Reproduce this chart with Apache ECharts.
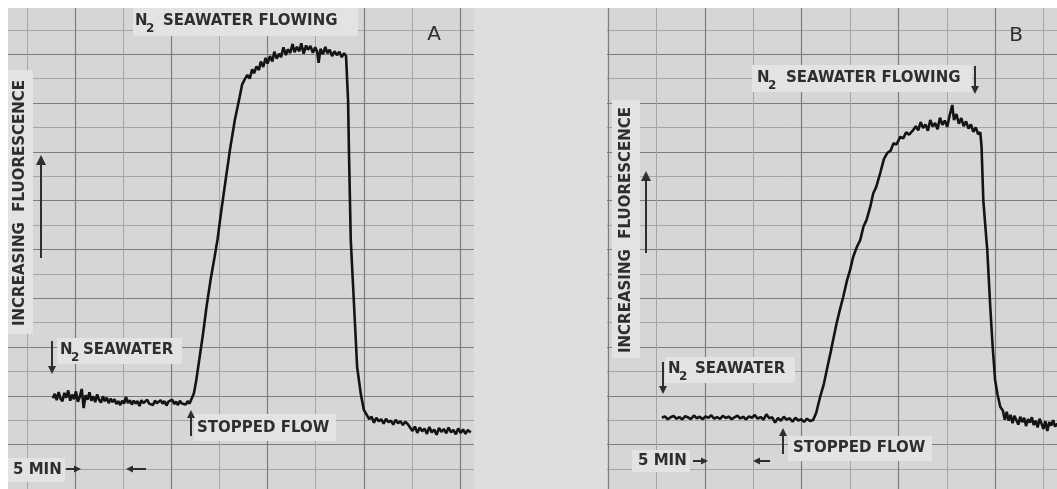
<!DOCTYPE html>
<html>
<head>
<meta charset="utf-8">
<script src="https://cdn.jsdelivr.net/npm/echarts@6/dist/echarts.min.js"></script>
<style>
html,body{margin:0;padding:0;background:#fff;}
#chart{width:1057px;height:489px;}
</style>
</head>
<body>
<div id="chart"></div>
<script>
// chart recorder traces, [minutes, fluorescence units (one small division = 1)]
// panel A
var baseA = [[-2.3,3.90],[-2.1,4.08],[-1.9,3.82],[-1.7,4.15],[-1.5,3.88],[-1.3,3.78],[-1.1,4.12],[-0.9,3.92],
  [-0.7,4.22],[-0.5,3.80],[-0.3,4.05],[-0.1,3.86],[0.1,4.18],[0.3,3.76],[0.5,3.96],[0.7,4.28],[0.9,3.50],
  [1.1,4.02],[1.3,3.84],[1.5,4.14],[1.7,3.80],[1.9,3.98],[2.1,3.74],[2.3,4.06],[2.5,3.84],[2.7,3.72],[2.9,3.98],
  [3.1,3.78],[3.3,3.92],[3.5,3.70],[3.7,3.88],[3.9,3.74],[4.1,3.86],[4.3,3.66],[4.5,3.78],[4.7,3.62],[4.9,3.80],
  [5.1,3.68],[5.3,3.96],[5.5,3.70],[5.7,3.82],[5.9,3.64],[6.1,3.80],[6.3,3.68],[6.5,3.78],[6.7,3.58],[6.9,3.82],
  [7.1,3.70],[7.3,3.66],[7.5,3.84],[7.7,3.68],[7.9,3.76],[8.1,3.62],[8.3,3.80],[8.5,3.70],[8.7,3.64],[8.9,3.82],
  [9.1,3.68],[9.3,3.78],[9.5,3.60],[9.7,3.76],[9.9,3.70],[10.1,3.84],[10.3,3.66],[10.5,3.76],[10.7,3.62],
  [10.9,3.80],[11.1,3.68],[11.3,3.74],[11.5,3.64],[11.7,3.78],[11.9,3.68],[12.1,3.72]];
var riseA = [[12.35,4.10],[12.6,4.65],[12.95,5.60],[13.3,6.55],[13.66,7.65],[14.1,8.80],[14.5,9.70],[14.8,10.40],
  [15.2,11.60],[15.7,13.00],[16.1,14.10],[16.6,15.30],[17.1,16.25],[17.35,16.75],[17.6,16.95]];
var plateauA = [[17.9,17.15],[18.15,17.00],[18.4,17.38],[18.6,17.22],[18.85,17.50],[19.1,17.35],[19.3,17.70],
  [19.55,17.48],[19.8,17.85],[20.0,17.62],[20.25,17.92],[20.5,17.70],[20.7,18.10],[20.95,17.82],[21.2,18.02],
  [21.4,17.88],[21.65,18.28],[21.9,17.96],[22.1,18.20],[22.35,18.05],[22.6,18.42],[22.8,18.08],[23.05,18.30],
  [23.3,18.12],[23.5,18.45],[23.75,18.02],[24.0,18.36],[24.2,18.18],[24.45,18.34],[24.7,18.06],[24.95,18.28],
  [25.15,18.10],[25.3,17.65],[25.5,18.22],[25.75,18.00],[26.0,18.30],[26.2,18.04],[26.45,18.18],[26.7,17.92],
  [26.95,18.12],[27.2,17.96],[27.45,18.10],[27.7,17.88],[27.95,18.04],[28.15,17.92],[28.26,17.88]];
var dropA = [[28.36,16.10],[28.47,13.66],[28.64,10.38],[28.99,7.64],[29.3,5.18],[29.7,4.03],[30.0,3.42]];
var tailA = [[30.3,3.22],[30.55,3.05],[30.8,3.14],[31.05,2.90],[31.3,3.10],[31.55,2.96],[31.8,3.04],[32.05,2.86],
  [32.3,3.06],[32.55,2.92],[32.8,2.98],[33.05,2.82],[33.3,3.02],[33.55,2.88],[33.8,2.96],[34.05,2.80],[34.3,2.94],
  [34.55,2.84],[34.8,2.70],[35.05,2.56],[35.3,2.74],[35.55,2.48],[35.8,2.70],[36.05,2.54],[36.3,2.66],[36.55,2.44],
  [36.8,2.72],[37.05,2.50],[37.3,2.62],[37.55,2.40],[37.8,2.68],[38.05,2.52],[38.3,2.64],[38.55,2.46],[38.8,2.70],
  [39.05,2.50],[39.3,2.60],[39.55,2.42],[39.8,2.66],[40.05,2.48],[40.3,2.62],[40.55,2.44],[40.8,2.60],[41.1,2.50]];

// panel B
var baseB = [[-4.45,3.10],[-4.15,3.16],[-3.85,3.04],[-3.55,3.12],[-3.25,3.18],[-2.95,3.06],[-2.65,3.13],
  [-2.35,3.03],[-2.05,3.17],[-1.75,3.11],[-1.45,3.05],[-1.15,3.19],[-0.85,3.08],[-0.55,3.14],[-0.25,3.04],
  [0.05,3.16],[0.35,3.10],[0.65,3.20],[0.95,3.06],[1.25,3.13],[1.55,3.05],[1.85,3.18],[2.15,3.09],[2.45,3.15],
  [2.75,3.04],[3.05,3.12],[3.35,3.19],[3.65,3.07],[3.95,3.14],[4.25,3.03],[4.55,3.16],[4.85,3.10],[5.15,3.21],
  [5.45,3.06],[5.75,3.13],[6.05,3.02],[6.35,3.24],[6.65,3.08],[6.95,3.12],[7.25,2.90],[7.55,3.09],[7.85,2.98],
  [8.15,3.14],[8.45,3.02],[8.75,3.08],[9.05,2.94],[9.35,3.10],[9.65,2.99],[9.95,3.04],[10.25,2.93],[10.55,3.06],
  [10.85,2.97],[11.18,3.01]];
var riseB = [[11.5,3.30],[11.9,3.95],[12.3,4.50],[12.7,5.25],[13.0,5.80],[13.25,6.29],[13.6,6.95],[13.9,7.45],
  [14.29,8.05],[14.7,8.75],[15.0,9.15],[15.32,9.69],[15.7,10.10],[16.05,10.38],[16.4,10.95],[16.7,11.20],
  [17.08,11.73],[17.4,12.30],[17.7,12.55],[18.12,13.13],[18.5,13.70],[18.84,13.95],[19.2,14.05],[19.5,14.35],
  [19.8,14.30],[20.19,14.61],[20.5,14.55],[20.8,14.80],[21.1,14.70],[21.53,14.89]];
var plateauB = [[21.8,15.05],[22.05,14.88],[22.3,15.22],[22.55,14.98],[22.8,15.12],[23.05,14.86],[23.3,15.30],
  [23.55,15.04],[23.8,15.18],[24.05,14.92],[24.3,15.40],[24.55,15.10],[24.8,15.28],[25.05,15.02],[25.3,15.50],
  [25.57,15.92],[25.75,15.30],[26.0,15.55],[26.25,15.15],[26.5,15.38],[26.75,15.05],[27.0,15.25],[27.25,14.95],
  [27.5,15.12],[27.75,14.82],[28.0,15.00],[28.25,14.72],[28.47,14.80]];
var dropB = [[28.6,14.20],[28.78,12.02],[29.0,10.90],[29.19,9.98],[29.5,7.64],[29.75,6.00],[30.0,4.65],
  [30.25,4.05],[30.54,3.54]];
var tailB = [[30.8,3.40],[31.0,3.02],[31.2,3.34],[31.4,2.98],[31.6,3.22],[31.8,2.88],[32.0,3.18],[32.2,3.00],
  [32.4,2.82],[32.6,3.14],[32.8,2.92],[33.0,3.10],[33.2,2.76],[33.4,3.04],[33.6,2.90],[33.8,3.12],[34.0,2.80],
  [34.2,2.98],[34.4,2.70],[34.6,3.06],[34.8,2.86],[35.0,2.64],[35.2,2.96],[35.4,2.56],[35.6,2.92],[35.8,2.78],
  [36.0,3.00],[36.2,2.74],[36.44,2.86]];

var traceA = baseA.concat(riseA, plateauA, dropA, tailA);
var traceB = baseB.concat(riseB, plateauB, dropB, tailB);

var PAPER = '#d6d6d6';
var BOX = '#e3e3e3';
var INK = '#2e2e2e';
var FONT = '"DejaVu Sans", sans-serif';

function paperAxis(min, max, interval, idx) {
  return {
    type: 'value', gridIndex: idx, min: min, max: max, interval: interval,
    axisLine: {show: false}, axisTick: {show: false}, axisLabel: {show: false},
    splitLine: {show: true, lineStyle: {color: '#7c7c7c', width: 1.2}},
    minorTick: {show: false, splitNumber: 2},
    minorSplitLine: {show: true, lineStyle: {color: '#a5a5a5', width: 1}}
  };
}

function box(x, y, w, h) {
  return {type: 'rect', z: 55, shape: {x: x, y: y, width: w, height: h}, style: {fill: BOX}};
}

function txt(x, y, text, size, opts) {
  opts = opts || {};
  return {
    type: 'text', x: x, y: y, z: 60, rotation: opts.rot || 0,
    style: {
      text: text, font: (opts.weight || 'bold') + ' ' + size + 'px ' + FONT, fill: INK,
      align: opts.align || 'left', verticalAlign: 'middle'
    }
  };
}

// "N" with a dropped "2" and the rest of the words
function n2(x, y, gap, rest) {
  return [
    txt(x, y, 'N', 15),
    txt(x + 11, y + 8, '2', 12),
    txt(x + 11 + gap, y, rest, 15)
  ];
}

// arrow from (x1,y1) to tip (x2,y2)
function arrow(x1, y1, x2, y2, head) {
  head = head || 8;
  var dx = x2 - x1, dy = y2 - y1, len = Math.sqrt(dx * dx + dy * dy);
  var ux = dx / len, uy = dy / len, w = head * 0.5;
  var bx = x2 - ux * head, by = y2 - uy * head;
  return [
    {type: 'line', z: 60, shape: {x1: x1, y1: y1, x2: bx, y2: by}, style: {stroke: INK, lineWidth: 2}},
    {type: 'polygon', z: 60, shape: {points: [[x2, y2], [bx - uy * w, by + ux * w], [bx + uy * w, by - ux * w]]},
      style: {fill: INK}}
  ];
}

var elements = [
  // white margin and the bare strip between the two chart papers
  {type: 'rect', z: 50, shape: {x: 0, y: 0, width: 1057, height: 8}, style: {fill: '#ffffff'}},
  {type: 'rect', z: 50, shape: {x: 0, y: 0, width: 8, height: 489}, style: {fill: '#ffffff'}},
  {type: 'rect', z: 50, shape: {x: 474, y: 8, width: 133, height: 481}, style: {fill: '#dedede'}},

  // label boxes
  box(133, 8, 225, 28), box(8, 70, 25, 264), box(57, 338, 125, 26), box(194, 414, 142, 27), box(8, 458, 57, 24),
  box(752, 65, 220, 27), box(612, 100, 28, 258), box(665, 357, 130, 26), box(788, 436, 144, 25), box(632, 450, 58, 22),

  // panel A
  txt(434, 35, 'A', 20, {weight: 'normal', align: 'center'}),
  txt(20, 203, 'INCREASING  FLUORESCENCE', 15, {rot: Math.PI / 2, align: 'center'}),
  txt(197, 428, 'STOPPED FLOW', 15),
  txt(13, 470, '5 MIN', 15),

  // panel B
  txt(1016, 36, 'B', 20, {weight: 'normal', align: 'center'}),
  txt(626, 230, 'INCREASING  FLUORESCENCE', 15, {rot: Math.PI / 2, align: 'center'}),
  txt(793, 448, 'STOPPED FLOW', 15),
  txt(638, 461, '5 MIN', 15)
];
elements = elements.concat(
  n2(135, 21, 17, 'SEAWATER FLOWING'),
  n2(60, 350, 12, 'SEAWATER'),
  n2(757, 78, 18, 'SEAWATER FLOWING'),
  n2(668, 369, 16, 'SEAWATER'),
  arrow(41, 258, 41, 155, 10),
  arrow(52, 341, 52, 374, 8),
  arrow(191, 436, 191, 410, 8),
  arrow(66, 469, 81, 469, 7),
  arrow(146, 469, 126, 469, 7),
  arrow(646, 253, 646, 171, 10),
  arrow(663, 362, 663, 394, 8),
  arrow(975, 66, 975, 94, 8),
  arrow(783, 454, 783, 428, 8),
  arrow(693, 461, 708, 461, 7),
  arrow(770, 461, 753, 461, 7)
);

var chart = echarts.init(document.getElementById('chart'));
chart.setOption({
  backgroundColor: PAPER,
  animation: false,
  grid: [
    {left: -21.3, right: 548.7, top: 5.4, bottom: -4.4, outerBoundsMode: 'none'},
    {left: 511.6, right: -34.8, top: 5.4, bottom: -4.4, outerBoundsMode: 'none'}
  ],
  xAxis: [paperAxis(-10, 45, 10, 0), paperAxis(-20, 40, 10, 1)],
  yAxis: [paperAxis(0, 20, 2, 0), paperAxis(0, 20, 2, 1)],
  series: [
    {type: 'line', xAxisIndex: 0, yAxisIndex: 0, data: traceA, showSymbol: false, z: 5,
      lineStyle: {color: '#141414', width: 2.6}},
    {type: 'line', xAxisIndex: 1, yAxisIndex: 1, data: traceB, showSymbol: false, z: 5,
      lineStyle: {color: '#141414', width: 2.6}}
  ],
  graphic: {elements: elements}
});
</script>
</body>
</html>
